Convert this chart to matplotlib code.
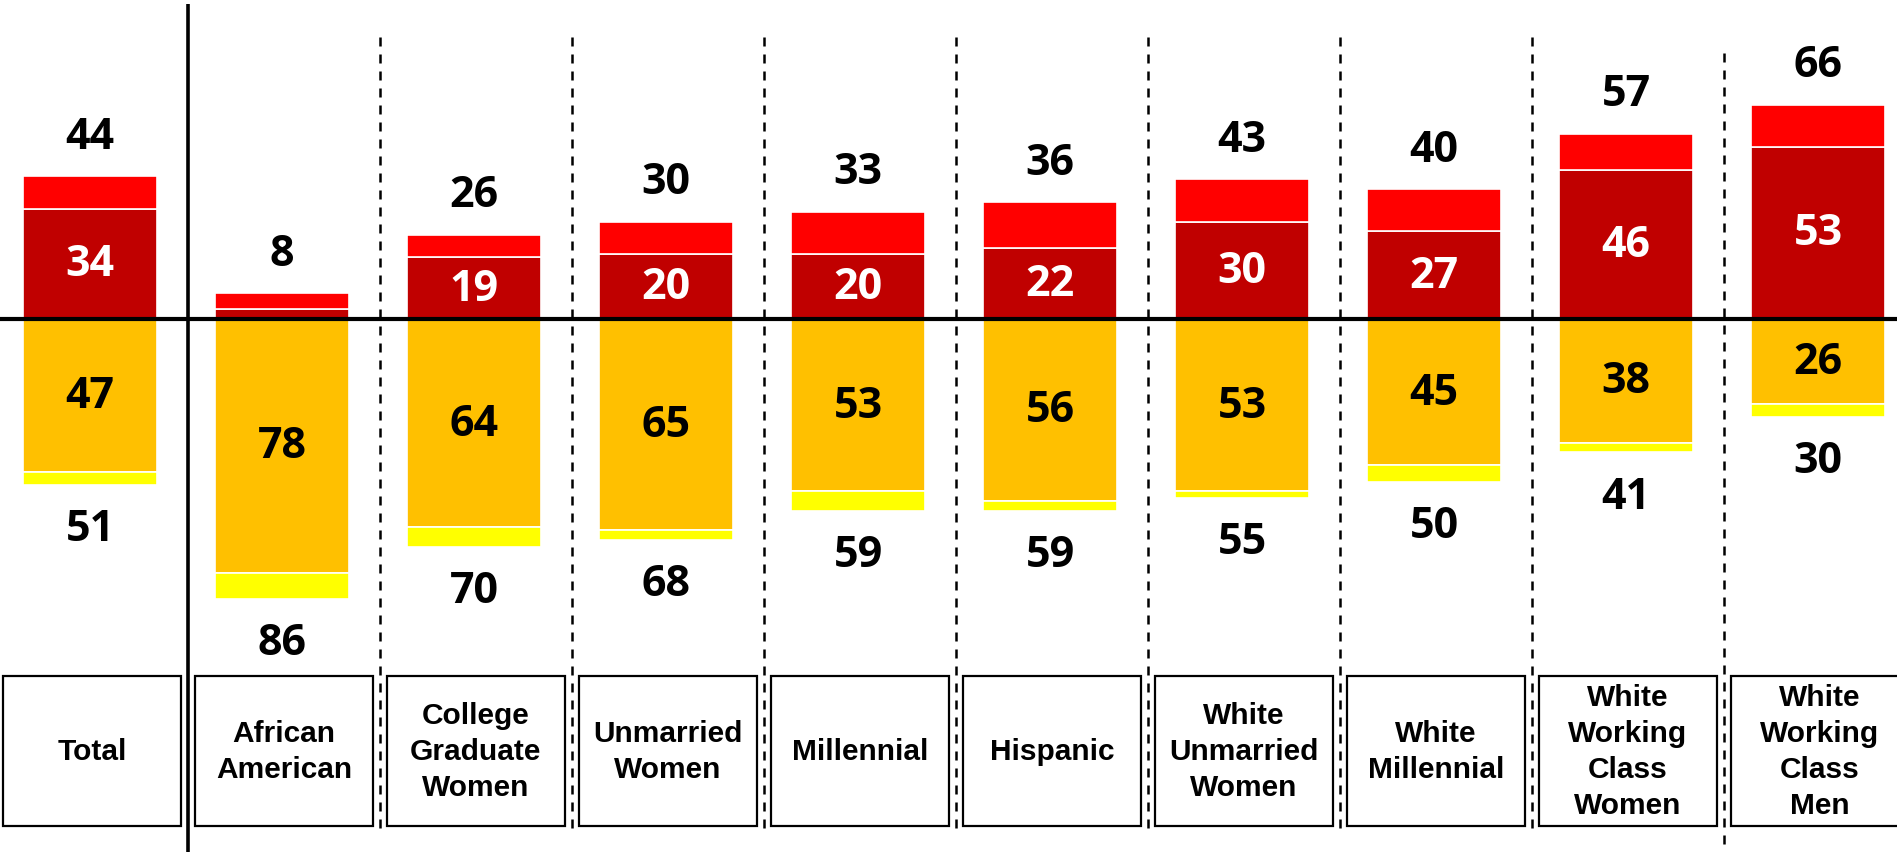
import matplotlib
matplotlib.use("Agg")
import matplotlib.pyplot as plt
from matplotlib.patches import Rectangle

categories = ["Total", "African\nAmerican", "College\nGraduate\nWomen", "Unmarried\nWomen",
              "Millennial", "Hispanic", "White\nUnmarried\nWomen", "White\nMillennial",
              "White\nWorking\nClass\nWomen", "White\nWorking\nClass\nMen"]
top_total = [44, 8, 26, 30, 33, 36, 43, 40, 57, 66]
top_strong = [34, 3, 19, 20, 20, 22, 30, 27, 46, 53]
bottom_total = [51, 86, 70, 68, 59, 59, 55, 50, 41, 30]
bottom_strong = [47, 78, 64, 65, 53, 56, 53, 45, 38, 26]
show_top_strong = [True, False, True, True, True, True, True, True, True, True]

C_DARKRED = "#C00000"
C_RED = "#FF0000"
C_ORANGE = "#FFC000"
C_YELLOW = "#FFFF00"

W, H = 1897, 853
fig = plt.figure(figsize=(W / 100, H / 100), dpi=100)
ax = fig.add_axes([0, 0, 1, 1])
ax.set_axis_off()

pxu_x = 192.0
pxu_y = 3.25
x0_px = 90.0
zero_px = 320.0
ax.set_xlim(-x0_px / pxu_x, (W - x0_px) / pxu_x)
ax.set_ylim(-(H - zero_px) / pxu_y, zero_px / pxu_y)

def py(p):
    # pixel-from-top to data y
    return (zero_px - p) / pxu_y

n = len(categories)
xs = list(range(n))
bw = 0.703

num_font = "Open Sans"
num_size = 31

for i in xs:
    ts, tt = top_strong[i], top_total[i]
    bs, bt = bottom_strong[i], bottom_total[i]
    ax.bar(i, ts, width=bw, bottom=0, color=C_DARKRED, edgecolor="white", linewidth=1.2, zorder=2)
    ax.bar(i, tt - ts, width=bw, bottom=ts, color=C_RED, edgecolor="white", linewidth=1.2, zorder=2)
    ax.bar(i, -bs, width=bw, bottom=0, color=C_ORANGE, edgecolor="white", linewidth=1.2, zorder=2)
    ax.bar(i, -(bt - bs), width=bw, bottom=-bs, color=C_YELLOW, edgecolor="white", linewidth=1.2, zorder=2)

    ax.text(i, tt + 12.3, str(tt), ha="center", va="center", fontsize=num_size,
            fontweight="bold", family=num_font, color="black", zorder=5)
    ax.text(i, -bt - 13.5, str(bt), ha="center", va="center", fontsize=num_size,
            fontweight="bold", family=num_font, color="black", zorder=5)
    if show_top_strong[i]:
        ax.text(i, ts / 2, str(ts), ha="center", va="center", fontsize=num_size,
                fontweight="bold", family=num_font, color="white", zorder=5)
    ax.text(i, -bs / 2, str(bs), ha="center", va="center", fontsize=num_size,
            fontweight="bold", family=num_font, color="black", zorder=5)

    # category box
    bx_w = 0.93
    y_top, y_bot = py(677), py(827)
    ax.add_patch(Rectangle((i + 0.01 - bx_w / 2, y_bot), bx_w, y_top - y_bot,
                           facecolor="white", edgecolor="black", linewidth=1.6, zorder=3))
    ax.text(i + 0.01, (y_top + y_bot) / 2, categories[i], ha="center", va="center",
            fontsize=21.5, fontweight="bold", family="Liberation Sans",
            linespacing=1.35, zorder=4)

# zero line
ax.axhline(0, color="black", linewidth=3.0, zorder=4)

# solid separator after Total
ax.plot([0.51, 0.51], [py(5), py(H + 5)], color="black", linewidth=2.6, zorder=4,
        solid_capstyle="butt")

# dashed separators
for k in range(1, n - 1):
    xl = k + 0.51
    top = py(54) if k == n - 2 else py(38)
    bot = py(H + 5) if k == n - 2 else py(837)
    ax.plot([xl, xl], [top, bot], color="black", linewidth=1.8, zorder=1,
            linestyle=(0, (3.6, 3.2)), dash_capstyle="butt")

fig.savefig("out.png", dpi=100)
